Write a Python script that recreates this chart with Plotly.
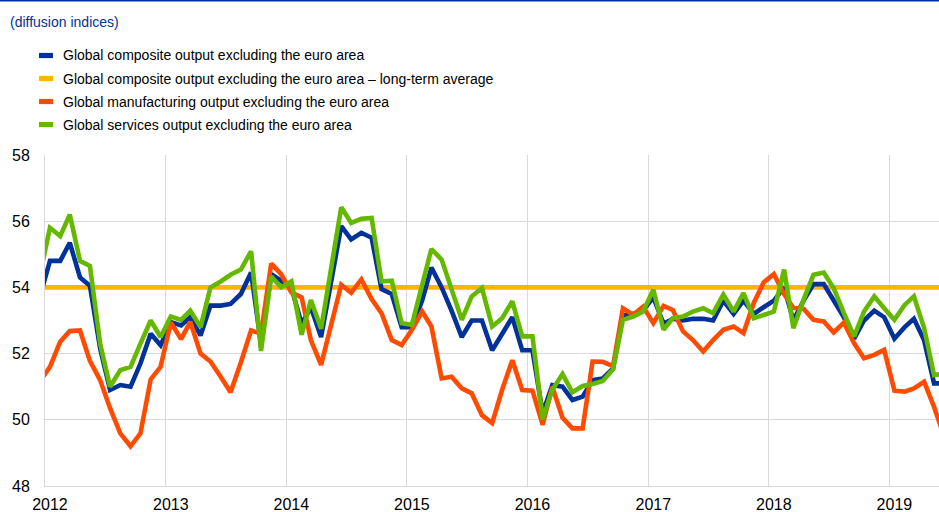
import pandas as pd
import plotly.graph_objects as go

# ---- data (monthly, Dec 2011 .. Jun 2019) ----
months = pd.date_range("2011-12-01", periods=91, freq="MS")

composite = [53.7, 54.8, 54.8, 55.35, 54.3, 54.05, 52.15, 50.9, 51.05, 51.0,
             51.7, 52.6, 52.25, 52.95, 52.85, 53.1, 52.55, 53.45, 53.45, 53.5,
             53.8, 54.45, 52.3, 54.4, 54.2, 54.0, 52.9, 53.4, 52.5, 54.2,
             55.85, 55.45, 55.65, 55.5, 53.95, 53.8, 52.8, 52.8, 53.6, 54.6,
             54.0, 53.3, 52.5, 53.0, 53.0, 52.1, 52.6, 53.1, 52.1, 52.1,
             50.2, 51.05, 51.0, 50.6, 50.7, 51.2, 51.25, 51.55, 53.15, 53.2,
             53.3, 53.7, 52.9, 53.05, 53.0, 53.05, 53.05, 53.0, 53.6, 53.2,
             53.6, 53.2, 53.4, 53.6, 54.0, 53.0, 53.6, 54.1, 54.1, 53.6,
             53.1, 52.45, 53.0, 53.3, 53.1, 52.45, 52.8, 53.05, 52.4, 51.1,
             51.1]

services = [54.35, 55.8, 55.55, 56.2, 54.8, 54.65, 52.3, 51.0, 51.5, 51.6,
            52.3, 53.0, 52.5, 53.12, 53.02, 53.3, 52.8, 54.0, 54.18, 54.38,
            54.54, 55.09, 52.08, 54.33, 54.0, 54.18, 52.57, 53.62, 52.75, 54.55,
            56.42, 55.95, 56.07, 56.1, 54.18, 54.2, 52.92, 52.87, 54.03, 55.16,
            54.84, 53.98, 53.02, 53.73, 53.98, 52.82, 53.07, 53.58, 52.52, 52.52,
            50.02, 50.9, 51.38, 50.83, 51.02, 51.08, 51.17, 51.53, 53.02, 53.12,
            53.27, 53.93, 52.72, 53.07, 53.12, 53.27, 53.37, 53.22, 53.78, 53.27,
            53.83, 53.07, 53.17, 53.27, 54.54, 52.77, 53.63, 54.38, 54.45, 53.98,
            53.22, 52.52, 53.27, 53.73, 53.37, 53.02, 53.47, 53.73, 52.77, 51.35,
            51.4]

manufacturing = [51.15, 51.6, 52.36, 52.68, 52.7, 51.78, 51.2, 50.35, 49.59, 49.2,
                 49.59, 51.22, 51.6, 52.94, 52.44, 52.96, 52.0, 51.76, 51.3, 50.83,
                 51.73, 52.7, 52.6, 54.72, 54.4, 53.85, 53.7, 52.41, 51.66, 52.85,
                 54.08, 53.84, 54.24, 53.65, 53.22, 52.41, 52.26, 52.72, 53.27, 52.82,
                 51.25, 51.3, 50.95, 50.8, 50.14, 49.9, 50.9, 51.8, 50.9, 50.88,
                 49.85, 51.0, 50.06, 49.74, 49.74, 51.76, 51.75, 51.62, 53.37, 53.17,
                 53.42, 52.92, 53.44, 53.32, 52.67, 52.41, 52.06, 52.41, 52.72, 52.82,
                 52.62, 53.53, 54.15, 54.4, 53.8, 53.38, 53.35, 53.02, 52.97, 52.64,
                 52.94, 52.31, 51.86, 51.96, 52.11, 50.88, 50.85, 50.95, 51.15, 50.39,
                 49.5]

long_term_average = 54.0

series_names = [
    "Global composite output excluding the euro area",
    "Global composite output excluding the euro area \u2013 long-term average",
    "Global manufacturing output excluding the euro area",
    "Global services output excluding the euro area",
]
series_colors = ["#003299", "#FFB400", "#FF4B00", "#65B800"]

year_labels = ["2012", "2013", "2014", "2015", "2016", "2017", "2018", "2019"]
y_ticks = [48, 50, 52, 54, 56, 58]
title_text = "(diffusion indices)"

# ---- layout geometry ----
W_PX, H_PX = 939, 512
L, R, T, B = 45, 0, 155, 26
PW = W_PX - L - R
PH = H_PX - T - B


def px_x(p):
    return (p - L) / PW


def px_y(p):
    return (H_PX - B - p) / PH


FONT = "Arial, 'Liberation Sans', sans-serif"

fig = go.Figure()

avg_vals = [long_term_average] * len(months)
order = [(1, avg_vals), (0, composite), (2, manufacturing), (3, services)]
for idx, vals in order:
    fig.add_trace(go.Scatter(
        x=months, y=vals, mode="lines", name=series_names[idx],
        line=dict(color=series_colors[idx], width=4.6),
        showlegend=False, hoverinfo="skip",
    ))

tick_dates = [pd.Timestamp(f"{y}-01-01") for y in year_labels]
grid_dates = [pd.Timestamp(f"{int(y) - 1}-12-17") for y in year_labels]

fig.update_xaxes(
    type="date",
    range=["2011-12-17", "2019-05-16"],
    tickmode="array", tickvals=tick_dates, ticktext=year_labels,
    showgrid=False,
    minor=dict(tickmode="array", tickvals=grid_dates, showgrid=True,
               gridcolor="#d9d9d9", gridwidth=1, ticks=""),
    showline=True, linecolor="#d9d9d9", linewidth=1,
    ticks="", tickfont=dict(family=FONT, size=16, color="#000000"),
    ticklabelstandoff=4,
    zeroline=False, fixedrange=True,
)
fig.update_yaxes(
    range=[48, 58], tickmode="array", tickvals=y_ticks,
    ticktext=[str(v) for v in y_ticks],
    showgrid=True, gridcolor="#d9d9d9", gridwidth=1,
    showline=True, linecolor="#d9d9d9", linewidth=1,
    ticks="", tickfont=dict(family=FONT, size=16, color="#000000"),
    ticklabelstandoff=11,
    zeroline=False, fixedrange=True,
)

shapes = []
annotations = []

# top rule
shapes.append(dict(type="line", xref="paper", yref="paper",
                   x0=px_x(0), x1=px_x(W_PX), y0=px_y(0.8), y1=px_y(0.8),
                   line=dict(color="#003299", width=1.6)))

# title
annotations.append(dict(xref="paper", yref="paper", x=px_x(8), y=px_y(22),
                        xanchor="left", yanchor="middle", showarrow=False,
                        text=title_text,
                        font=dict(family=FONT, size=14, color="#003299")))

# legend
legend_y = [55.5, 78.5, 101.5, 124.5]
for i, name in enumerate(series_names):
    cy = legend_y[i]
    shapes.append(dict(type="rect", xref="paper", yref="paper",
                       x0=px_x(39), x1=px_x(53), y0=px_y(cy - 2.6), y1=px_y(cy + 2.6),
                       fillcolor=series_colors[i], line=dict(width=0)))
    annotations.append(dict(xref="paper", yref="paper", x=px_x(61), y=px_y(cy),
                            xanchor="left", yanchor="middle", showarrow=False,
                            text=name,
                            font=dict(family=FONT, size=14, color="#000000")))

fig.update_layout(
    width=W_PX, height=H_PX,
    margin=dict(l=L, r=R, t=T, b=B, pad=0),
    paper_bgcolor="white", plot_bgcolor="white",
    shapes=shapes, annotations=annotations,
    showlegend=False,
)

fig.write_html(
    "out.html",
    config={"displayModeBar": False},
    post_script="document.body.style.margin='0';document.body.style.overflow='hidden';",
)
